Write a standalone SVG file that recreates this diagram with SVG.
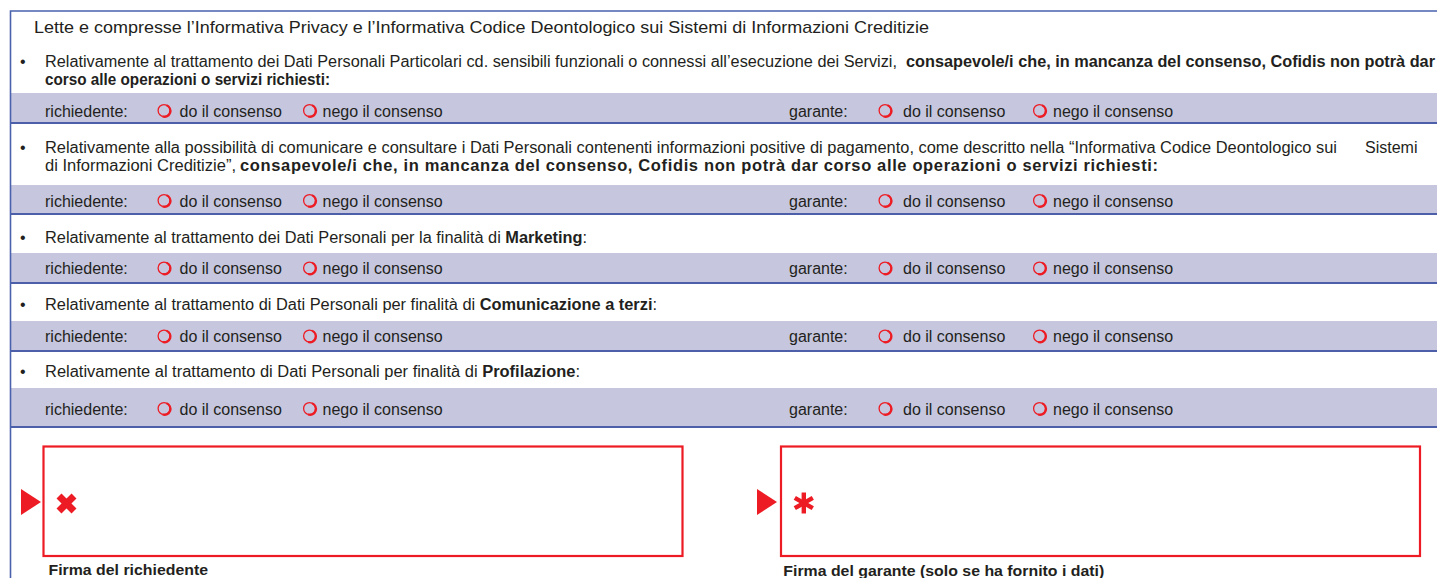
<svg xmlns="http://www.w3.org/2000/svg" xmlns:xlink="http://www.w3.org/1999/xlink" width="1437" height="578" viewBox="0 0 1437 578">
<style>
text{font-family:"Liberation Sans",Arial,Helvetica,sans-serif;fill:#231f20;font-size:16px}
.b{font-weight:bold}
.hd{font-size:17px}
.band{fill:#c6c7df}
.sep{stroke:#4c5fa8;stroke-width:2;fill:none}
.frame{stroke:#4a62ad;stroke-width:1.6;fill:none}
.sig{fill:none;stroke:#ed1c24;stroke-width:2.2}
.red{fill:#ed1c24}
.lbl{font-weight:bold;font-size:15px}
</style>
<defs>
<g id="radio">
<circle cx="0" cy="0" r="5.9" fill="none" stroke="#ed1c24" stroke-width="1.3"/>
<path d="M 2,-5.6 A 5.9 5.9 0 0 1 -2,5.6" fill="none" stroke="#ed1c24" stroke-width="2.1" transform="translate(0.6,0.4)"/>
</g>
</defs>
<rect x="0" y="0" width="1437" height="578" fill="#ffffff"/>

<g id="bands">
<rect class="band" x="11" y="93" width="1426" height="29"/>
<rect class="band" x="11" y="185" width="1426" height="28"/>
<rect class="band" x="11" y="253" width="1426" height="29"/>
<rect class="band" x="11" y="321" width="1426" height="29"/>
<rect class="band" x="11" y="388" width="1426" height="38"/>
<line class="sep" x1="10" y1="123" x2="1437" y2="123"/>
<line class="sep" x1="10" y1="214" x2="1437" y2="214"/>
<line class="sep" x1="10" y1="283" x2="1437" y2="283"/>
<line class="sep" x1="10" y1="351" x2="1437" y2="351"/>
<line class="sep" x1="10" y1="427" x2="1437" y2="427"/>
</g>

<g id="frame">
<path class="frame" d="M 10.5,578 L 10.5,11 L 1437,11"/>
</g>

<g id="header">
<text class="hd" x="34" y="33" textLength="895" lengthAdjust="spacingAndGlyphs">Lette e compresse l’Informativa Privacy e l’Informativa Codice Deontologico sui Sistemi di Informazioni Creditizie</text>
</g>

<g id="row1">
<text x="20" y="66.5">•</text>
<text x="45" y="66.5" textLength="852" lengthAdjust="spacingAndGlyphs">Relativamente al trattamento dei Dati Personali Particolari cd. sensibili funzionali o connessi all’esecuzione dei Servizi,</text>
<text class="b" x="906" y="66.5" textLength="529" lengthAdjust="spacingAndGlyphs">consapevole/i che, in mancanza del consenso, Cofidis non potrà dar</text>
<text class="b" x="45" y="85" textLength="285" lengthAdjust="spacingAndGlyphs">corso alle operazioni o servizi richiesti:</text>
<text x="45" y="116.5">richiedente:</text>
<use xlink:href="#radio" href="#radio" x="164" y="110.5"/>
<text x="179.5" y="116.5">do il consenso</text>
<use xlink:href="#radio" href="#radio" x="309.5" y="110.5"/>
<text x="322.5" y="116.5">nego il consenso</text>
<text x="789" y="116.5">garante:</text>
<use xlink:href="#radio" href="#radio" x="885" y="110.5"/>
<text x="903" y="116.5">do il consenso</text>
<use xlink:href="#radio" href="#radio" x="1039.5" y="110.5"/>
<text x="1053" y="116.5">nego il consenso</text>
</g>

<g id="row2">
<text x="20" y="152.5">•</text>
<text x="45" y="152.5" textLength="1292" lengthAdjust="spacingAndGlyphs">Relativamente alla possibilità di comunicare e consultare i Dati Personali contenenti informazioni positive di pagamento, come descritto nella “Informativa Codice Deontologico sui</text>
<text x="1365" y="152.5">Sistemi</text>
<text x="45" y="170.5" textLength="191" lengthAdjust="spacingAndGlyphs">di Informazioni Creditizie”,</text>
<text class="b" x="240" y="170.5" style="font-size:16.5px" textLength="918" lengthAdjust="spacing">consapevole/i che, in mancanza del consenso, Cofidis non potrà dar corso alle operazioni o servizi richiesti:</text>
<text x="45" y="206.5">richiedente:</text>
<use xlink:href="#radio" href="#radio" x="164" y="200.5"/>
<text x="179.5" y="206.5">do il consenso</text>
<use xlink:href="#radio" href="#radio" x="309.5" y="200.5"/>
<text x="322.5" y="206.5">nego il consenso</text>
<text x="789" y="206.5">garante:</text>
<use xlink:href="#radio" href="#radio" x="885" y="200.5"/>
<text x="903" y="206.5">do il consenso</text>
<use xlink:href="#radio" href="#radio" x="1039.5" y="200.5"/>
<text x="1053" y="206.5">nego il consenso</text>
</g>

<g id="row3">
<text x="20" y="243">•</text>
<text x="45" y="243" textLength="542" lengthAdjust="spacingAndGlyphs">Relativamente al trattamento dei Dati Personali per la finalità di <tspan class="b">Marketing</tspan>:</text>
<text x="45" y="274">richiedente:</text>
<use xlink:href="#radio" href="#radio" x="164" y="268"/>
<text x="179.5" y="274">do il consenso</text>
<use xlink:href="#radio" href="#radio" x="309.5" y="268"/>
<text x="322.5" y="274">nego il consenso</text>
<text x="789" y="274">garante:</text>
<use xlink:href="#radio" href="#radio" x="885" y="268"/>
<text x="903" y="274">do il consenso</text>
<use xlink:href="#radio" href="#radio" x="1039.5" y="268"/>
<text x="1053" y="274">nego il consenso</text>
</g>

<g id="row4">
<text x="20" y="310">•</text>
<text x="45" y="310" textLength="612" lengthAdjust="spacingAndGlyphs">Relativamente al trattamento di Dati Personali per finalità di <tspan class="b">Comunicazione a terzi</tspan>:</text>
<text x="45" y="342">richiedente:</text>
<use xlink:href="#radio" href="#radio" x="164" y="336"/>
<text x="179.5" y="342">do il consenso</text>
<use xlink:href="#radio" href="#radio" x="309.5" y="336"/>
<text x="322.5" y="342">nego il consenso</text>
<text x="789" y="342">garante:</text>
<use xlink:href="#radio" href="#radio" x="885" y="336"/>
<text x="903" y="342">do il consenso</text>
<use xlink:href="#radio" href="#radio" x="1039.5" y="336"/>
<text x="1053" y="342">nego il consenso</text>
</g>

<g id="row5">
<text x="20" y="377">•</text>
<text x="45" y="377" textLength="535" lengthAdjust="spacingAndGlyphs">Relativamente al trattamento di Dati Personali per finalità di <tspan class="b">Profilazione</tspan>:</text>
<text x="45" y="414.5">richiedente:</text>
<use xlink:href="#radio" href="#radio" x="164" y="408.5"/>
<text x="179.5" y="414.5">do il consenso</text>
<use xlink:href="#radio" href="#radio" x="309.5" y="408.5"/>
<text x="322.5" y="414.5">nego il consenso</text>
<text x="789" y="414.5">garante:</text>
<use xlink:href="#radio" href="#radio" x="885" y="408.5"/>
<text x="903" y="414.5">do il consenso</text>
<use xlink:href="#radio" href="#radio" x="1039.5" y="408.5"/>
<text x="1053" y="414.5">nego il consenso</text>
</g>

<g id="sig-richiedente">
<rect class="sig" x="43.5" y="446.5" width="639" height="109.5"/>
<polygon class="red" points="21,489 41,502 21,515"/>
<path d="M 59,496 L 74,511 M 74,496 L 59,511" stroke="#ed1c24" stroke-width="7" fill="none"/>
<text class="lbl" x="48.5" y="575" textLength="159.5" lengthAdjust="spacingAndGlyphs">Firma del richiedente</text>
</g>

<g id="sig-garante">
<rect class="sig" x="781" y="446.5" width="639" height="109.5"/>
<polygon class="red" points="757,489 777,502 757,515"/>
<g transform="translate(803.8,503)" stroke="#ed1c24" stroke-width="4.4" fill="none">
<line x1="0" y1="-10.5" x2="0" y2="10.5"/>
<line x1="-9" y1="-5.2" x2="9" y2="5.2"/>
<line x1="-9" y1="5.2" x2="9" y2="-5.2"/>
</g>
<text class="lbl" x="783.3" y="575.5" textLength="321" lengthAdjust="spacingAndGlyphs">Firma del garante (solo se ha fornito i dati)</text>
</g>
</svg>
